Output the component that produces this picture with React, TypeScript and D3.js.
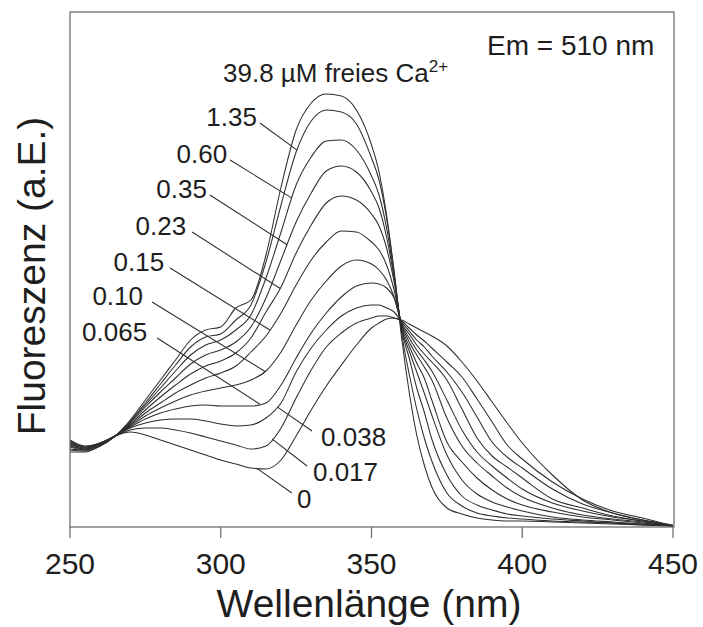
import React from 'react';
import * as d3 from 'd3';

// Excitation wavelengths (nm)
const wavelengths = [250, 255, 260, 265, 270, 275, 280, 285, 290, 295, 300, 305, 310, 315, 320, 325, 330, 335, 340, 345, 350, 352.5, 355, 357.5, 360, 362.5, 365, 367.5, 370, 375, 380, 385, 390, 395, 400, 410, 420, 430, 440, 450];

// Fluorescence (a.E.) for each free Ca2+ concentration (µM)
const ca398 = [75, 75, 81, 91, 107, 127, 147, 167, 187, 197, 200, 219, 227, 272, 340, 397, 424, 433, 431, 417, 382, 355, 312, 255, 189, 135, 92, 62, 40, 19, 13, 9, 7, 6, 6, 5, 4, 3, 2, 1];
const ca135 = [77, 76, 81, 91, 106, 124, 143, 162, 180, 190, 193, 207, 222, 265, 322, 375, 406, 417, 415, 403, 369, 347, 309, 255, 194, 153, 118, 89, 66, 34, 21, 14, 11, 9, 8, 6, 5, 4, 2, 1];
const ca060 = [78, 77, 82, 91, 105, 122, 139, 156, 172, 182, 187, 197, 212, 249, 295, 342, 370, 386, 387, 377, 351, 332, 299, 252, 197, 169, 139, 115, 88, 52, 31, 22, 17, 13, 11, 8, 6, 4, 3, 1];
const ca035 = [80, 77, 82, 91, 104, 120, 135, 149, 163, 172, 177, 185, 200, 229, 267, 305, 334, 356, 361, 355, 335, 319, 290, 249, 199, 176, 155, 134, 112, 72, 47, 33, 25, 20, 16, 10, 7, 5, 3, 1];
const ca023 = [81, 78, 82, 91, 103, 117, 130, 142, 153, 161, 166, 174, 189, 215, 240, 274, 302, 324, 331, 327, 313, 301, 279, 245, 200, 181, 164, 149, 127, 85, 65, 49, 37, 28, 22, 15, 10, 7, 4, 1];
const ca015 = [82, 78, 83, 91, 102, 114, 124, 134, 142, 149, 154, 161, 175, 191, 214, 242, 267, 285, 296, 295, 285, 277, 262, 237, 202, 185, 172, 160, 147, 109, 81, 64, 51, 39, 30, 19, 12, 8, 5, 1];
const ca010 = [83, 79, 83, 91, 101, 111, 119, 126, 132, 136, 139, 142, 147, 156, 175, 202, 227, 246, 261, 267, 263, 257, 247, 230, 203, 189, 177, 167, 156, 127, 97, 75, 61, 49, 38, 24, 16, 10, 6, 1];
const ca0065 = [84, 79, 83, 91, 100, 108, 114, 118, 121, 122, 121, 121, 121, 124, 142, 169, 194, 214, 230, 241, 244, 243, 239, 229, 204, 193, 182, 173, 165, 147, 118, 89, 71, 60, 49, 28, 19, 11, 6, 1];
const ca0038 = [85, 80, 84, 91, 99, 104, 107, 108, 108, 106, 103, 101, 102, 109, 124, 155, 179, 197, 211, 219, 222, 222, 219, 215, 205, 196, 187, 180, 171, 155, 135, 110, 85, 70, 59, 38, 23, 14, 7, 1];
const ca0017 = [86, 80, 84, 91, 97, 99, 99, 97, 94, 90, 86, 82, 78, 81, 99, 129, 157, 180, 194, 204, 209, 211, 211, 209, 206, 199, 192, 186, 179, 165, 150, 128, 105, 82, 68, 45, 28, 16, 9, 1];
const ca0 = [87, 81, 84, 91, 95, 92, 87, 82, 77, 72, 67, 63, 59, 58, 67, 91, 117, 141, 162, 182, 199, 204, 208, 209, 207, 203, 199, 195, 191, 181, 165, 146, 125, 104, 84, 52, 27, 14, 7, 2];

const seriesValues = [ca398, ca135, ca060, ca035, ca023, ca015, ca010, ca0065, ca0038, ca0017, ca0];
const seriesLabels = ['39.8', '1.35', '0.60', '0.35', '0.23', '0.15', '0.10', '0.065', '0.038', '0.017', '0'];

// Label annotation: leader start (nm, value), leader touch point (nm on curve), side
const labelStartNm = [0, 313.0, 303.1, 296.4, 290.5, 283.2, 277.2, 278.9, 330.3, 328.6, 323.6];
const labelStartVal = [0, 404, 367, 332, 295, 259, 225, 189, 96, 61, 34];
const labelTouchNm = [0, 325.3, 323.6, 322.0, 319.7, 316.3, 314.7, 313.0, 318.7, 317.0, 312.0];
const labelSide = ['', 'left', 'left', 'left', 'left', 'left', 'left', 'left', 'right', 'right', 'right'];
const labelGap = [0, 3, 3, 3, 6, 6, 9, 10, 9, 6, 5];

const xTicks = [250, 300, 350, 400, 450];

const FONT = "'Liberation Sans', Arial, Helvetica, sans-serif";

function valueAt(values: number[], nm: number): number {
  for (let i = 0; i < wavelengths.length - 1; i++) {
    const a = wavelengths[i], b = wavelengths[i + 1];
    if (nm >= a && nm <= b) {
      const t = (nm - a) / (b - a);
      return values[i] + t * (values[i + 1] - values[i]);
    }
  }
  return values[values.length - 1];
}

export default function App() {
  const W = 703, H = 627;
  const left = 70, right = 674, top = 12, bottom = 527;
  const x = d3.scaleLinear().domain([250, 450]).range([left, 673]);
  const y = d3.scaleLinear().domain([0, 515]).range([bottom, top]);
  const line = d3
    .line<number>()
    .x((_, i) => x(wavelengths[i]))
    .y((d) => y(d))
    .curve(d3.curveMonotoneX);

  const stroke = '#2e2e2e';
  const textFill = '#1e1e1e';

  return (
    <svg
      width={W}
      height={H}
      viewBox={`0 0 ${W} ${H}`}
      style={{ position: 'absolute', left: 0, top: 0, background: '#fff', display: 'block' }}
      fontFamily={FONT}
    >
      <rect x={0} y={0} width={W} height={H} fill="#fff" />
      {/* curves */}
      <g fill="none" stroke={stroke} strokeWidth={1.05}>
        {seriesValues.map((vals, k) => (
          <path key={k} d={line(vals) || ''} />
        ))}
      </g>
      {/* frame */}
      <rect x={left} y={top} width={right - left} height={bottom - top} fill="none" stroke="#707070" strokeWidth={1.3} />
      {/* x ticks */}
      <g>
        {xTicks.map((t) => (
          <g key={t} transform={`translate(${x(t)},0)`}>
            <line y1={bottom} y2={bottom + 11} stroke="#707070" strokeWidth={1.3} />
            <text y={574} textAnchor="middle" fontSize={30} fill={textFill}>
              {t}
            </text>
          </g>
        ))}
      </g>
      {/* axis titles */}
      <text x={369} y={617} textAnchor="middle" fontSize={39} fill={textFill}>
        Wellenlänge (nm)
      </text>
      <text
        transform={`translate(45, 276) rotate(-90)`}
        textAnchor="middle"
        fontSize={39}
        fill={textFill}
      >
        Fluoreszenz (a.E.)
      </text>
      {/* annotations */}
      <text x={487} y={55} fontSize={28} fill={textFill}>
        Em = 510 nm
      </text>
      <text x={223} y={82} fontSize={26} fill={textFill}>
        39.8 µM freies Ca
        <tspan fontSize={17} dy={-10}>
          2+
        </tspan>
      </text>
      {/* curve labels with leader lines */}
      {seriesLabels.map((lab, k) => {
        if (k === 0) return null;
        const sx = x(labelStartNm[k]);
        const sy = y(labelStartVal[k]);
        const tx = x(labelTouchNm[k]);
        const ty = y(valueAt(seriesValues[k], labelTouchNm[k]));
        const isLeft = labelSide[k] === 'left';
        return (
          <g key={lab}>
            <line x1={sx} y1={sy} x2={tx} y2={ty} stroke={stroke} strokeWidth={1.05} />
            <text
              x={isLeft ? sx - labelGap[k] : sx + labelGap[k]}
              y={isLeft ? sy + 3 : sy + 15}
              textAnchor={isLeft ? 'end' : 'start'}
              fontSize={26}
              fill={textFill}
            >
              {lab}
            </text>
          </g>
        );
      })}
    </svg>
  );
}
